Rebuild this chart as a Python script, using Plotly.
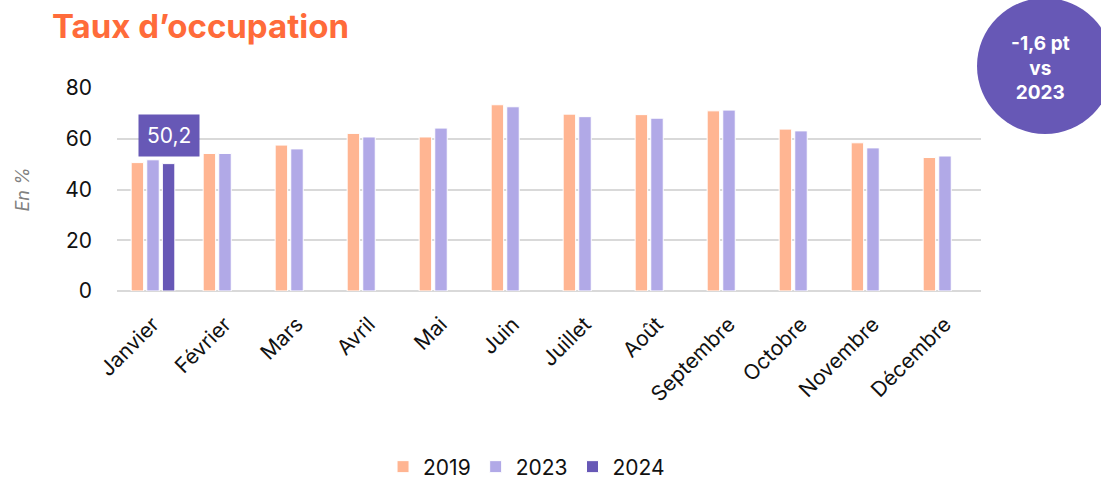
import plotly.graph_objects as go

months = ["Janvier", "Février", "Mars", "Avril", "Mai", "Juin", "Juillet",
          "Août", "Septembre", "Octobre", "Novembre", "Décembre"]
v2019 = [50.6, 54.2, 57.5, 62.1, 60.7, 73.4, 69.7, 69.5, 71.0, 63.8, 58.4, 52.6]
v2023 = [51.7, 54.2, 56.0, 60.7, 64.2, 72.6, 68.7, 68.1, 71.3, 63.1, 56.4, 53.2]
v2024 = [50.2, None, None, None, None, None, None, None, None, None, None, None]
y_ticks = [0, 20, 40, 60, 80]

C2019 = "#FFB592"
C2023 = "#B1A9E7"
C2024 = "#6758B6"
FONT = "Inter"

W, H = 1101, 484
L, R, T, B = 117, 120, 88, 193
BARGAP = 0.35
BARGROUPGAP = 0.2


def px(x):
    return (x - L) / (W - L - R)


def py(y):
    return (H - B - y) / (H - T - B)


fig = go.Figure()
for name, vals, col in [("2019", v2019, C2019), ("2023", v2023, C2023), ("2024", v2024, C2024)]:
    fig.add_trace(go.Bar(x=months, y=vals, name=name, marker_color=col,
                         marker_line=dict(color="white", width=1)))

# label above the 2024 bar of January (third bar of the group)
offset = (1 - BARGAP) / 3
fig.add_annotation(x=0 + offset, y=v2024[0], xref="x", yref="y",
                   text=f"{v2024[0]:.1f}".replace(".", ","),
                   showarrow=False, xanchor="center", yanchor="bottom", yshift=7,
                   font=dict(family=FONT, size=21, color="white"),
                   bgcolor=C2024, borderpad=8)

fig.add_annotation(x=px(50), y=py(26), xref="paper", yref="paper",
                   text="<b>Taux d’occupation</b>", showarrow=False,
                   xanchor="left", yanchor="middle",
                   font=dict(family=FONT, size=33, color="#FF6B3A"))

# badge circle
fig.add_shape(type="circle", xref="paper", yref="paper",
              x0=px(977), x1=px(1113), y0=py(134), y1=py(-2),
              fillcolor=C2024, line=dict(width=0), layer="above")
fig.add_annotation(x=px(1040), y=py(68), xref="paper", yref="paper",
                   text="<b>-1,6 pt<br>vs<br>2023</b>", showarrow=False,
                   xanchor="center", yanchor="middle",
                   font=dict(family=FONT, size=19, color="white"), align="center")

fig.update_layout(
    width=W, height=H,
    barmode="group", bargap=BARGAP, bargroupgap=BARGROUPGAP,
    paper_bgcolor="white", plot_bgcolor="white",
    margin=dict(l=L, r=R, t=T, b=B, autoexpand=False),
    font=dict(family=FONT, size=20, color="#111111"),
    showlegend=True,
    legend=dict(orientation="h", x=0.474, xanchor="center",
                yref="container", y=1 - 467 / H, yanchor="middle",
                font=dict(family=FONT, size=21, color="#111111"),
                itemwidth=30, traceorder="normal"),
    xaxis=dict(tickangle=-45, showgrid=False, showline=False, ticks="",
               automargin=False, ticklabelstandoff=16,
               tickfont=dict(family=FONT, size=21, color="#111111")),
    yaxis=dict(range=[0, 80], tickvals=y_ticks, showgrid=True, gridcolor="#D9D9D9",
               gridwidth=2, zeroline=True, zerolinecolor="#D9D9D9", zerolinewidth=2,
               ticks="", ticklabelstandoff=24, automargin=False,
               tickfont=dict(family=FONT, size=21, color="#111111"),
               title=dict(text="<i>En %</i>", standoff=30,
                          font=dict(family=FONT, size=18, color="#808080"))),
)

fig.write_html("out.html", config={"displayModeBar": False},
               post_script="document.body.style.margin='0';document.body.style.overflow='hidden';")
